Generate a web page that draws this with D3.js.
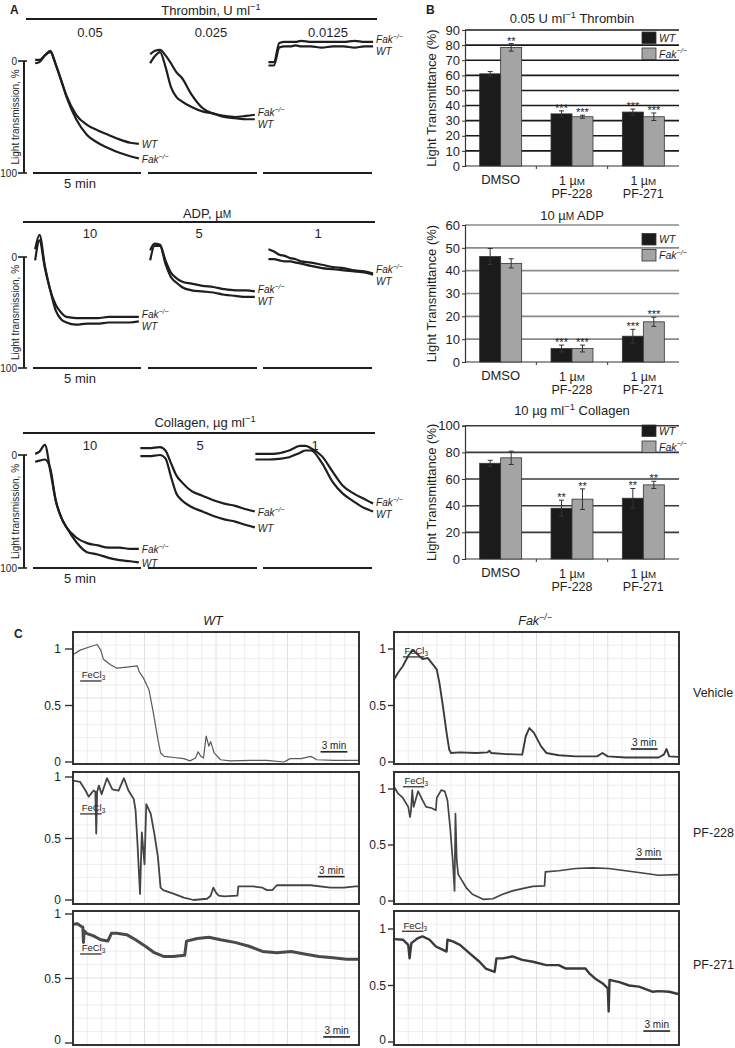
<!DOCTYPE html>
<html><head><meta charset="utf-8">
<script src="https://cdn.jsdelivr.net/npm/d3@7/dist/d3.min.js"></script>
<style>
html,body{margin:0;padding:0;background:#fff;}
svg{display:block;font-family:"Liberation Sans",Arial,Helvetica,sans-serif;}
</style></head><body>
<svg id="fig" width="735" height="1048"></svg>
<script>
// ======================= DATA =======================
// ---- Panel A: aggregation traces (time, min ; light transmission, %) ----
const thrombinDoses = ["0.05", "0.025", "0.0125"];
const adpDoses = ["10", "5", "1"];
const collagenDoses = ["10", "5", "1"];

const tA     = [0.1, 0.3, 0.55, 0.8, 1.05, 1.3, 1.55, 2, 2.5, 3, 3.5, 4, 4.5, 4.9];
const tA3    = [0.25, 0.5, 0.75, 1.0, 1.25, 1.5, 1.75, 2.2, 2.7, 3.2, 3.7, 4.2, 4.65, 5.05];
const tColl2 = [-0.35, 0.05, 0.55, 0.8, 1.05, 1.3, 1.55, 2, 2.5, 3, 3.5, 4, 4.5, 4.9];
const tColl3 = [-0.35, 0.25, 0.7, 1.2, 1.7, 1.95, 2.2, 2.7, 3.2, 3.65, 4.15, 4.65, 5.05];

const thr005WT    = [2, 1, -5, -8, 3, 17, 31, 48, 57, 62, 66, 70, 73, 74];
const thr005Fak   = [-1, -1, -5, -9, 3, 17, 32, 52, 66, 73, 78, 82, 85, 87];
const thr0025WT   = [2, -4, -8, 5, 23, 32, 36, 41, 45, 47, 50, 51, 52, 52];
const thr0025Fak  = [-6, -9, -10, -5, 2, 10, 15, 30, 42, 47, 49, 50, 49, 48];
const thr00125WT  = [4, 4, -12, -13, -13, -14, -13, -13, -12, -13, -13, -12, -13, -13];
const thr00125Fak = [1, 1, -16, -17, -17, -17, -18, -17, -17, -17, -17, -18, -17, -17];

const adp10WT  = [3, -15, 10, 30, 48, 56, 59, 61, 60, 60, 59, 59, 59, 58];
const adp10Fak = [-7, -20, 8, 30, 43, 50, 54, 55, 55, 55, 54, 54, 54, 54];
const adp5WT   = [3, -10, -10, 6, 18, 23, 27, 30, 31, 32, 34, 35, 36, 36];
const adp5Fak  = [-6, -12, -11, 3, 14, 19, 22, 24, 26, 27, 29, 30, 30, 31];
const adp1WT   = [2, 2, 3, 4, 4, 5, 6, 8, 10, 11, 12, 13, 14, 16];
const adp1Fak  = [-7, -5, -2, -1, 1, 2, 4, 5, 7, 9, 10, 12, 13, 15];

const coll10WT  = [6, 5, 4, 12, 40, 55, 64, 77, 86, 88, 91, 93, 94, 95];
const coll10Fak = [-1, -3, -9, 14, 40, 55, 64, 73, 78, 80, 82, 82, 83, 83];
const coll5WT   = [1, 1, 0, 3, 19, 34, 40, 46, 50, 54, 57, 59, 62, 64];
const coll5Fak  = [-6, -6, -7, -4, 7, 18, 24, 32, 36, 40, 43, 45, 48, 50];
const coll1WT   = [4, 4, 3.5, 2, -2, -4, -4, 7, 24, 34, 41, 47, 50];
const coll1Fak  = [-1, -1, -1.5, -4, -8, -8, -6, 1, 15, 27, 34, 39, 43];

// ---- Panel B: light transmittance bars (%) ----
const bCats = ["DMSO", "1 µM PF-228", "1 µM PF-271"];
const bSeries = ["WT", "Fak"];
const thrTicks = [0, 10, 20, 30, 40, 50, 60, 70, 80, 90];
const thrWT = [61, 34.5, 35.7],   thrWTErr = [1.5, 2, 2];
const thrFak = [78.5, 32.6, 32.6], thrFakErr = [2.5, 1, 2.5];
const thrWTStars = ["", "***", "***"], thrFakStars = ["**", "***", "***"];
const adpTicks = [0, 10, 20, 30, 40, 50, 60];
const adpWT = [46.2, 5.9, 11.3],  adpWTErr = [3.5, 1.5, 3];
const adpFak = [43.2, 5.9, 17.6], adpFakErr = [2, 1.5, 2];
const adpWTStars = ["", "***", "***"], adpFakStars = ["", "***", "***"];
const colTicks = [0, 20, 40, 60, 80, 100];
const colWT = [71.8, 38.1, 45.6], colWTErr = [2.2, 6, 7.3];
const colFak = [75.9, 44.9, 55.6], colFakErr = [5, 7.7, 2.7];
const colWTStars = ["", "**", "**"], colFakStars = ["", "**", "**"];

// ---- Panel C: FeCl3 carotid flow traces (time, min ; normalised flow) ----
const cRowNames = ["Vehicle", "PF-228", "PF-271"];
const cTicks = [0, 0.5, 1];
const cWTvehT = [0, 0.8, 1.9, 2.7, 3.1, 3.4, 4.2, 4.9, 6.0, 7.2, 7.4, 7.9, 8.5, 9.0, 9.5, 9.8, 10.2, 11.3, 12.4, 13.1, 13.7, 14.0, 14.3, 14.6, 14.9, 15.2, 15.4, 15.8, 16.5, 17.6, 19.9, 21.7, 23.6, 24.3, 25.5, 26.6, 27.3, 29.2, 32.0];
const cWTvehV = [0.95, 0.99, 1.02, 1.04, 0.99, 0.91, 0.86, 0.83, 0.84, 0.85, 0.80, 0.74, 0.64, 0.43, 0.20, 0.08, 0.05, 0.04, 0.03, 0.01, 0.035, 0.09, 0.05, 0.035, 0.23, 0.14, 0.18, 0.08, 0.02, 0.01, 0.015, 0.015, 0.0, 0.03, 0.03, 0.05, 0.02, 0.015, 0.015];
const cWTpf228T = [0, 0.8, 1.4, 1.75, 2.3, 2.5, 2.6, 2.7, 2.9, 3.2, 3.8, 4.4, 5.1, 5.7, 6.2, 6.8, 7.0, 7.2, 7.5, 7.7, 8.0, 8.2, 8.7, 9.1, 9.5, 9.8, 10.1, 11.3, 12.4, 13.5, 15.0, 15.4, 15.7, 16.0, 16.3, 16.9, 18.4, 18.5, 20.2, 21.2, 21.7, 22.3, 22.8, 24.3, 26.6, 28.8, 30.3, 31.6, 32.0];
const cWTpf228V = [0.97, 0.96, 0.89, 0.84, 0.89, 0.88, 0.54, 0.88, 0.93, 0.86, 0.99, 0.90, 0.89, 0.99, 0.89, 0.82, 0.73, 0.48, 0.05, 0.55, 0.29, 0.78, 0.70, 0.54, 0.35, 0.10, 0.08, 0.05, 0.02, 0.0, 0.01, 0.035, 0.10, 0.06, 0.035, 0.03, 0.035, 0.11, 0.11, 0.10, 0.08, 0.08, 0.12, 0.12, 0.12, 0.10, 0.10, 0.11, 0.11];
const cWTpf271T = [0, 0.5, 1.0, 1.1, 1.17, 1.25, 1.5, 2.3, 3.1, 3.9, 4.3, 4.9, 6.0, 7.0, 8.1, 9.1, 10.2, 11.2, 12.5, 12.7, 13.9, 15.2, 16.5, 18.1, 19.7, 21.2, 22.8, 24.4, 25.9, 27.5, 29.1, 30.6, 32.0];
const cWTpf271V = [0.92, 0.925, 0.90, 0.90, 0.78, 0.87, 0.85, 0.83, 0.80, 0.79, 0.85, 0.85, 0.84, 0.80, 0.75, 0.70, 0.67, 0.67, 0.68, 0.79, 0.81, 0.82, 0.80, 0.78, 0.75, 0.71, 0.70, 0.71, 0.69, 0.67, 0.66, 0.65, 0.65];
const cFakVehT = [0, 0.45, 1.0, 1.6, 2.1, 2.7, 3.2, 3.8, 4.4, 4.8, 5.1, 5.5, 5.9, 6.2, 6.4, 7.4, 9.2, 10.5, 10.7, 10.9, 12.6, 14.4, 14.8, 15.2, 15.7, 16.5, 17.1, 18.5, 20.4, 22.8, 23.4, 24.0, 26.0, 29.7, 30.3, 30.6, 30.9, 31.9];
const cFakVehV = [0.73, 0.79, 0.85, 0.94, 0.99, 0.95, 0.91, 0.92, 0.86, 0.82, 0.70, 0.49, 0.26, 0.11, 0.08, 0.085, 0.08, 0.085, 0.10, 0.08, 0.07, 0.065, 0.23, 0.30, 0.26, 0.14, 0.08, 0.06, 0.05, 0.05, 0.08, 0.05, 0.04, 0.04, 0.065, 0.115, 0.05, 0.045];
const cFakPf228T = [0, 0.45, 1.0, 1.6, 1.8, 1.9, 2.05, 2.2, 2.7, 3.2, 3.6, 4.2, 4.7, 4.8, 5.3, 5.7, 6.0, 6.3, 6.6, 6.8, 6.9, 7.05, 7.2, 7.5, 8.1, 8.8, 10.0, 11.1, 12.2, 13.3, 14.4, 15.6, 16.9, 17.0, 18.5, 20.4, 22.3, 24.1, 26.0, 27.9, 29.7, 31.9];
const cFakPf228V = [1.02, 0.96, 0.92, 0.84, 0.75, 0.80, 0.99, 0.84, 0.98, 0.90, 0.84, 0.83, 0.81, 0.92, 0.99, 0.98, 0.90, 0.66, 0.36, 0.09, 0.78, 0.36, 0.24, 0.20, 0.12, 0.06, 0.015, 0.02, 0.06, 0.09, 0.11, 0.13, 0.135, 0.26, 0.27, 0.29, 0.295, 0.29, 0.27, 0.25, 0.23, 0.235];
const cFakPf271T = [0, 1.0, 1.6, 1.75, 1.95, 2.7, 3.2, 4.0, 4.7, 5.5, 5.9, 6.0, 6.6, 7.4, 8.5, 9.6, 10.3, 11.3, 11.5, 12.2, 13.3, 14.4, 15.6, 17.1, 18.5, 19.3, 20.4, 21.5, 21.9, 22.6, 23.4, 24.0, 24.1, 24.2, 25.3, 26.4, 27.5, 29.0, 29.7, 30.9, 31.9];
const cFakPf271V = [0.91, 0.905, 0.86, 0.74, 0.875, 0.92, 0.935, 0.905, 0.845, 0.815, 0.80, 0.905, 0.89, 0.86, 0.785, 0.71, 0.65, 0.62, 0.74, 0.74, 0.757, 0.727, 0.71, 0.68, 0.68, 0.65, 0.65, 0.65, 0.61, 0.56, 0.52, 0.475, 0.27, 0.55, 0.53, 0.50, 0.49, 0.445, 0.45, 0.445, 0.425];

// ======================= DRAWING =======================
const svg = d3.select("#fig");
const INK = "#1e1e1e";

function addParts(t, parts, fs) {
  // parts: [text, kind] kind: 0 normal, 1 superscript, 2 small caps
  let shifted = 0;
  parts.forEach(([s, k]) => {
    const ts = t.append("tspan").text(s);
    if (k === 1) { ts.attr("font-size", fs * 0.72).attr("dy", -fs * 0.38); shifted = fs * 0.38; }
    else {
      if (shifted) { ts.attr("dy", shifted); shifted = 0; }
      if (k === 2) ts.attr("font-size", fs * 0.78);
    }
  });
  return t;
}
function fakText(t, fs) {
  t.append("tspan").text("Fak");
  t.append("tspan").attr("font-size", fs * 0.7).attr("dy", -fs * 0.4).text("−/−");
  return t;
}
function panelLetter(x, y, s) {
  svg.append("text").attr("x", x).attr("y", y).attr("font-size", 12).attr("font-weight", "bold").attr("fill", INK).text(s);
}

// ---------- Panel A ----------
panelLetter(10, 14, "A");
const aSegX = [[33, 141], [148, 257], [263, 372]];
const aRows = [
  { title: [["Thrombin, U ml", 0], ["−1", 1]], doses: thrombinDoses,
    traces: [[tA, thr005WT, thr005Fak], [tA, thr0025WT, thr0025Fak], [tA3, thr00125WT, thr00125Fak]] },
  { title: [["ADP, µ", 0], ["M", 2]], doses: adpDoses,
    traces: [[tA, adp10WT, adp10Fak], [tA, adp5WT, adp5Fak], [tA3, adp1WT, adp1Fak]] },
  { title: [["Collagen, µg ml", 0], ["−1", 1]], doses: collagenDoses,
    traces: [[tA, coll10WT, coll10Fak], [tColl2, coll5WT, coll5Fak], [tColl3, coll1WT, coll1Fak]] }
];
const aLayout = [
  { titleX: 211, titleY: 14.5, lineY: 19, lineX: [26, 377], doseY: 36.5, doseX: [90, 211, 328], y0: 61, y100: 173 },
  { titleX: 207, titleY: 217.5, lineY: 222, lineX: [23, 375], doseY: 237.5, doseX: [90, 199, 318], y0: 257, y100: 368 },
  { titleX: 205, titleY: 426.5, lineY: 433, lineX: [23, 375], doseY: 449.5, doseX: [90, 200, 315], y0: 455, y100: 568 }
];

aRows.forEach((row, ri) => {
  const L = aLayout[ri];
  const g = svg.append("g");
  const y = d3.scaleLinear().domain([0, 100]).range([L.y0, L.y100]);
  addParts(g.append("text").attr("x", L.titleX).attr("y", L.titleY).attr("text-anchor", "middle")
    .attr("font-size", 13).attr("fill", INK), row.title, 13);
  g.append("line").attr("x1", L.lineX[0]).attr("x2", L.lineX[1]).attr("y1", L.lineY).attr("y2", L.lineY)
    .attr("stroke", INK).attr("stroke-width", 1.8);
  row.doses.forEach((d, i) => g.append("text").attr("x", L.doseX[i]).attr("y", L.doseY)
    .attr("text-anchor", "middle").attr("font-size", 13).attr("fill", INK).text(d));
  // y axis
  g.append("line").attr("x1", 24).attr("x2", 24).attr("y1", y(0)).attr("y2", y(100)).attr("stroke", INK).attr("stroke-width", 2);
  [0, 100].forEach(v => {
    g.append("line").attr("x1", 18).attr("x2", 27).attr("y1", y(v)).attr("y2", y(v)).attr("stroke", INK).attr("stroke-width", 1.6);
    g.append("text").attr("x", 17).attr("y", y(v) + 3.5).attr("text-anchor", "end").attr("font-size", 10).attr("fill", INK).text(v);
  });
  g.append("text").attr("transform", `translate(18.5,${(y(0) + y(100)) / 2}) rotate(-90)`)
    .attr("text-anchor", "middle").attr("font-size", 10).attr("fill", INK).text("Light transmission, %");
  g.append("text").attr("x", 80).attr("y", y(100) + 14.5).attr("text-anchor", "middle").attr("font-size", 13).attr("fill", INK).text("5 min");

  aSegX.forEach((seg, ci) => {
    const x = d3.scaleLinear().domain([0, 5]).range(seg);
    g.append("line").attr("x1", seg[0]).attr("x2", seg[1]).attr("y1", y(100)).attr("y2", y(100))
      .attr("stroke", INK).attr("stroke-width", 1.8);
    const [tt, wt, fak] = row.traces[ci];
    const line = d3.line().x(d => x(d[0])).y(d => y(d[1])).curve(d3.curveMonotoneX);
    const ends = [];
    [[wt, "WT"], [fak, "Fak"]].forEach(([vals, name]) => {
      const pts = d3.zip(tt, vals);
      g.append("path").attr("d", line(pts)).attr("fill", "none").attr("stroke", INK)
        .attr("stroke-width", 2.2).attr("stroke-linejoin", "round");
      const last = pts[pts.length - 1];
      ends.push({ name, x: x(last[0]) + 3, y: y(last[1]) });
    });
    const [a, b] = ends;
    if (Math.abs(a.y - b.y) < 12) {
      const mid = (a.y + b.y) / 2;
      const upper = a.y < b.y ? a : b, lower = upper === a ? b : a;
      if (a.y === b.y) { b.y = mid - 6; a.y = mid + 6; } else { upper.y = mid - 6; lower.y = mid + 6; }
    }
    ends.forEach(e => {
      const t = g.append("text").attr("x", e.x).attr("y", e.y + 4.5).attr("font-size", 10)
        .attr("font-style", "italic").attr("fill", INK);
      if (e.name === "WT") t.text("WT"); else fakText(t, 10);
    });
  });
});

// ---------- Panel B ----------
panelLetter(426, 13.5, "B");
const bCharts = [
  { title: [["0.05 U ml", 0], ["−1", 1], [" Thrombin", 0]], titleY: 22.5, ticks: thrTicks, top: 30, bottom: 166,
    wt: thrWT, wtErr: thrWTErr, fak: thrFak, fakErr: thrFakErr, wtStars: thrWTStars, fakStars: thrFakStars,
    grid: "#1a1a1a", legendY: 32 },
  { title: [["10 µ", 0], ["M", 2], [" ADP", 0]], titleY: 219.5, ticks: adpTicks, top: 225, bottom: 362,
    wt: adpWT, wtErr: adpWTErr, fak: adpFak, fakErr: adpFakErr, wtStars: adpWTStars, fakStars: adpFakStars,
    grid: "#8a8a8a", legendY: 233.5 },
  { title: [["10 µg ml", 0], ["−1", 1], [" Collagen", 0]], titleY: 414.5, ticks: colTicks, top: 425.7, bottom: 559,
    wt: colWT, wtErr: colWTErr, fak: colFak, fakErr: colFakErr, wtStars: colWTStars, fakStars: colFakStars,
    grid: "#3a3a3a", legendY: 425 }
];
const bX0 = 465, bX1 = 679;
const bColors = { WT: "#1b1b1b", Fak: "#a4a4a4" };

bCharts.forEach(ch => {
  const g = svg.append("g");
  const yMax = ch.ticks[ch.ticks.length - 1];
  const y = d3.scaleLinear().domain([0, yMax]).range([ch.bottom, ch.top]);
  const x0 = d3.scaleBand().domain(bCats).range([bX0, bX1]).paddingInner(0);
  const x1 = d3.scaleBand().domain(bSeries).range([0, x0.bandwidth()]).paddingOuter(0.7).paddingInner(0);

  addParts(g.append("text").attr("x", 572).attr("y", ch.titleY).attr("text-anchor", "middle")
    .attr("font-size", 13).attr("fill", INK), ch.title, 13);

  ch.ticks.filter(v => v > 0).forEach(v => {
    g.append("line").attr("x1", bX0).attr("x2", bX1).attr("y1", y(v)).attr("y2", y(v))
      .attr("stroke", ch.grid).attr("stroke-width", 1.6);
  });
  const ax = g.append("g").attr("transform", `translate(${bX0},0)`)
    .call(d3.axisLeft(y).tickValues(ch.ticks).tickSize(3).tickPadding(2).tickFormat(d3.format("d")));
  ax.select(".domain").attr("stroke", "#333").attr("stroke-width", 1.2);
  ax.selectAll(".tick line").attr("stroke", "#333");
  ax.selectAll("text").attr("font-size", 13).attr("font-family", "Liberation Sans, Arial, sans-serif").attr("fill", INK);
  g.append("text").attr("transform", `translate(436,${(ch.top + ch.bottom) / 2}) rotate(-90)`)
    .attr("text-anchor", "middle").attr("font-size", 13).attr("fill", INK).text("Light Transmittance (%)");
  g.append("line").attr("x1", bX0).attr("x2", bX1).attr("y1", y(0)).attr("y2", y(0)).attr("stroke", "#333").attr("stroke-width", 1.2);
  bCats.slice(1).forEach(c => g.append("line").attr("x1", x0(c)).attr("x2", x0(c))
    .attr("y1", y(0)).attr("y2", y(0) + 3).attr("stroke", "#333"));

  bCats.forEach((c, i) => {
    [["WT", ch.wt, ch.wtErr, ch.wtStars], ["Fak", ch.fak, ch.fakErr, ch.fakStars]].forEach(([s, vals, errs, stars]) => {
      const bx = x0(c) + x1(s), bw = x1.bandwidth(), cx = bx + bw / 2;
      g.append("rect").attr("x", bx).attr("y", y(vals[i])).attr("width", bw).attr("height", y(0) - y(vals[i]))
        .attr("fill", bColors[s]).attr("stroke", "#333").attr("stroke-width", 0.8);
      const lo = y(vals[i] - errs[i]), hi = y(vals[i] + errs[i]);
      g.append("line").attr("x1", cx).attr("x2", cx).attr("y1", lo).attr("y2", hi).attr("stroke", "#333").attr("stroke-width", 1);
      [lo, hi].forEach(yy => g.append("line").attr("x1", cx - 2.5).attr("x2", cx + 2.5).attr("y1", yy).attr("y2", yy)
        .attr("stroke", "#333").attr("stroke-width", 1));
      if (stars[i]) g.append("text").attr("x", cx).attr("y", hi + 1).attr("text-anchor", "middle")
        .attr("font-size", 11).attr("fill", "#222").text(stars[i]);
    });
    const cx = x0(c) + x0.bandwidth() / 2;
    if (c.startsWith("1 µM ")) {
      addParts(g.append("text").attr("x", cx).attr("y", y(0) + 19).attr("text-anchor", "middle")
        .attr("font-size", 12.5).attr("fill", INK), [["1 µ", 0], ["M", 2]], 12.5);
      g.append("text").attr("x", cx).attr("y", y(0) + 32).attr("text-anchor", "middle")
        .attr("font-size", 12.5).attr("fill", INK).text(c.slice(5));
    } else {
      g.append("text").attr("x", cx).attr("y", y(0) + 17.5).attr("text-anchor", "middle")
        .attr("font-size", 13).attr("fill", INK).text(c);
    }
  });
  bSeries.forEach((s, i) => {
    const ly = ch.legendY + i * 16;
    g.append("rect").attr("x", 642).attr("y", ly).attr("width", 14).attr("height", 11.5)
      .attr("fill", bColors[s]).attr("stroke", "#333").attr("stroke-width", 0.8);
    const t = g.append("text").attr("x", 659).attr("y", ly + 9.5).attr("font-size", 10.5)
      .attr("font-style", "italic").attr("fill", INK);
    if (s === "WT") t.text("WT"); else fakText(t, 10.5);
  });
});

// ---------- Panel C ----------
panelLetter(14, 638, "C");
svg.append("text").attr("x", 213).attr("y", 624.5).attr("text-anchor", "middle").attr("font-size", 12.5)
  .attr("font-style", "italic").attr("fill", INK).text("WT");
fakText(svg.append("text").attr("x", 535).attr("y", 624.5).attr("text-anchor", "middle").attr("font-size", 12.5)
  .attr("font-style", "italic").attr("fill", INK), 12.5);

const cCols = [{ x0: 73, x1: 359, tick: [65, 73], lab: 61 }, { x0: 394, x1: 679, tick: [388, 394], lab: 386 }];
const cFrames = [[632, 764], [772, 904], [911, 1045]];
const cYMap = [[[762, 649], [762, 649]], [[900, 777], [901, 789]], [[1043, 914], [1042, 929]]];
const cTraces = [
  [[cWTvehT, cWTvehV], [cFakVehT, cFakVehV]],
  [[cWTpf228T, cWTpf228V], [cFakPf228T, cFakPf228V]],
  [[cWTpf271T, cWTpf271V], [cFakPf271T, cFakPf271V]]
];
const cStyle = [[[1.2, "#5a5a5a"], [1.9, "#3a3a3a"]], [[1.8, "#444"], [1.7, "#444"]], [[3.0, "#4a4a4a"], [2.4, "#3a3a3a"]]];
const cFecl = [[[0.8, 0.717], [1.0, 0.93]], [[0.8, 0.70], [1.0, 1.02]], [[0.8, 0.69], [0.9, 0.98]]];
const cBar = [[[27.7, 0.09], [26.6, 0.115]], [[27.4, 0.19], [27.1, 0.375]], [[28.0, 0.047], [28.0, 0.097]]];
const cRowLabelY = [697, 837, 969];

cFrames.forEach((fr, r) => {
  cCols.forEach((col, c) => {
    const g = svg.append("g");
    const x = d3.scaleLinear().domain([0, 32]).range([col.x0, col.x1]);
    const y = d3.scaleLinear().domain([0, 1]).range(cYMap[r][c]);
    const clipId = `clip${r}${c}`;
    g.append("clipPath").attr("id", clipId).append("rect")
      .attr("x", col.x0).attr("y", fr[0]).attr("width", col.x1 - col.x0).attr("height", fr[1] - fr[0]);
    const gx = d3.scaleLinear().domain([0, 20]).range([col.x0, col.x1]);
    const gy = d3.scaleLinear().domain([0, 10]).range([fr[1], fr[0]]);
    d3.range(1, 20).forEach(i => g.append("line").attr("x1", gx(i)).attr("x2", gx(i)).attr("y1", fr[0]).attr("y2", fr[1])
      .attr("stroke", i % 5 === 0 ? "#d8d8d8" : "#e8e8e8").attr("stroke-width", 0.8));
    d3.range(1, 10).forEach(i => g.append("line").attr("x1", col.x0).attr("x2", col.x1).attr("y1", gy(i)).attr("y2", gy(i))
      .attr("stroke", i % 5 === 0 ? "#d8d8d8" : "#e8e8e8").attr("stroke-width", 0.8));
    const [tt, vv] = cTraces[r][c];
    const line = d3.line().x(d => x(d[0])).y(d => y(d[1]));
    g.append("path").attr("clip-path", `url(#${clipId})`).attr("d", line(d3.zip(tt, vv)))
      .attr("fill", "none").attr("stroke", cStyle[r][c][1]).attr("stroke-width", cStyle[r][c][0]).attr("stroke-linejoin", "round");
    g.append("rect").attr("x", col.x0).attr("y", fr[0]).attr("width", col.x1 - col.x0).attr("height", fr[1] - fr[0])
      .attr("fill", "none").attr("stroke", "#333").attr("stroke-width", 2);
    cTicks.forEach(v => {
      g.append("line").attr("x1", col.tick[0]).attr("x2", col.tick[1]).attr("y1", y(v)).attr("y2", y(v))
        .attr("stroke", "#333").attr("stroke-width", 1.4);
      g.append("text").attr("x", col.lab).attr("y", Math.min(y(v) + 4.2, 1044)).attr("text-anchor", "end").attr("font-size", 12)
        .attr("fill", INK).text(v);
    });
    const [ft, fv] = cFecl[r][c];
    g.append("line").attr("x1", x(ft)).attr("x2", x(ft + 2.4)).attr("y1", y(fv)).attr("y2", y(fv)).attr("stroke", "#333").attr("stroke-width", 1.3);
    const ftxt = g.append("text").attr("x", x(ft) + 1.5).attr("y", y(fv) - 2.5).attr("font-size", 9.5).attr("fill", INK);
    ftxt.append("tspan").text("FeCl");
    ftxt.append("tspan").attr("font-size", 6.5).attr("dy", 2).text("3");
    const [bt, bv] = cBar[r][c];
    g.append("line").attr("x1", x(bt)).attr("x2", x(bt + 3)).attr("y1", y(bv)).attr("y2", y(bv)).attr("stroke", "#222").attr("stroke-width", 1.6);
    g.append("text").attr("x", (x(bt) + x(bt + 3)) / 2).attr("y", y(bv) - 3).attr("text-anchor", "middle")
      .attr("font-size", 10).attr("fill", INK).text("3 min");
  });
  svg.append("text").attr("x", 693).attr("y", cRowLabelY[r]).attr("font-size", 12.5).attr("fill", INK).text(cRowNames[r]);
});
</script>
</body></html>
